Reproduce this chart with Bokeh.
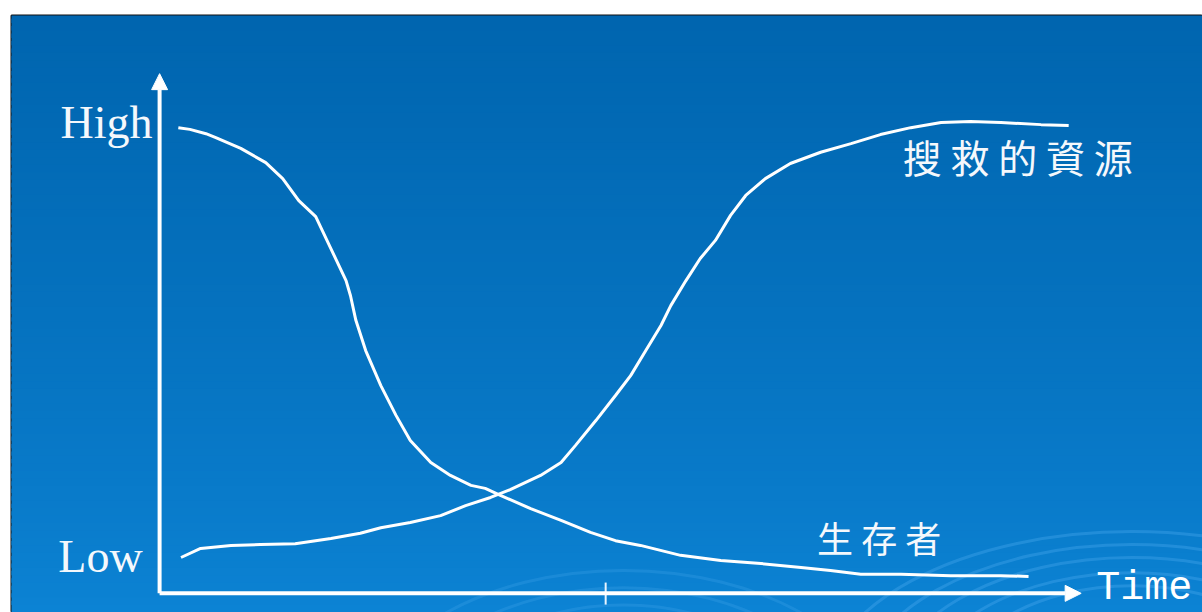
import numpy as np
from bokeh.plotting import figure
from bokeh.models import Range1d, Arrow, NormalHead, Label
from bokeh.embed import file_html
from bokeh.resources import INLINE

# ---- data (time 0..100, level 0=Low .. 100=High) ----
survivors_t = [2.1, 3.4, 5.2, 6.3, 9.1, 11.9, 13.8, 15.6, 17.5, 19.2, 20.9, 21.4, 22.0, 23.1,
               24.8, 26.5, 28.1, 30.4, 32.6, 34.9, 36.5, 38.2, 41.6, 45.0, 48.3, 51.1, 53.9,
               58.4, 62.9, 67.4, 71.9, 75.2, 78.6, 83.1, 88.7, 94.3, 97.4]
survivors_v = [99.5, 99.1, 98.1, 97.2, 94.7, 91.4, 87.7, 82.6, 78.9, 71.5, 64.1, 60.6, 54.9, 47.9,
               39.8, 32.9, 27.1, 22.0, 19.0, 16.7, 16.0, 14.4, 11.3, 8.6, 5.8, 3.9, 2.8,
               0.5, -0.7, -1.4, -2.3, -3.0, -3.9, -3.9, -4.2, -4.2, -4.4]
rescue_t = [2.4, 4.6, 8.0, 11.3, 15.2, 19.2, 22.5, 24.8, 28.1, 31.5, 34.3, 37.1, 39.3, 42.7,
            45.0, 46.6, 48.9, 51.1, 52.8, 54.5, 56.2, 57.3, 59.0, 60.6, 62.3, 64.0, 65.7,
            67.9, 70.7, 74.1, 77.5, 80.8, 84.2, 87.6, 90.9, 94.3, 98.8, 101.9]
rescue_v = [0.0, 2.1, 2.8, 3.0, 3.2, 4.4, 5.6, 6.9, 8.1, 9.7, 12.0, 13.9, 15.7, 19.0,
            22.0, 25.9, 31.7, 37.5, 42.1, 47.9, 53.7, 58.3, 64.1, 69.2, 73.4, 79.2, 83.8,
            87.7, 91.2, 93.8, 95.8, 97.9, 99.5, 100.7, 100.9, 100.7, 100.2, 100.0]
x_tick = [50]
y_labels = ["High", "Low"]
series_labels = ["搜 救 的 資 源", "生 存 者"]
x_label = "Time"

W, H = 1202, 612
x0, x1 = -16.6, 116.9
y0, y1 = -12.73, 125.46

p = figure(width=W, height=H, x_range=Range1d(x0, x1), y_range=Range1d(y0, y1),
           x_axis_type=None, y_axis_type=None, output_backend="svg",
           toolbar_location=None, min_border_left=11, min_border_top=15,
           min_border_right=0, min_border_bottom=0)
p.grid.visible = False
p.border_fill_color = "white"
p.outline_line_color = "#111111"
p.outline_line_width = 2

# gradient background (overlapping strips, drawn bottom to top)
n = 80
edges = np.linspace(y0, y1, n + 1)
fr = np.linspace(0, 1, n)  # 0 bottom, 1 top
top = np.array([0, 101, 175])
bot = np.array([12, 131, 212])
cols = []
for f in fr:
    c = bot + (top - bot) * (f ** 0.8)
    cols.append("#%02x%02x%02x" % tuple(int(round(v)) for v in c))
p.quad(left=x0 - 1, right=x1 + 1, bottom=edges[:-1], top=edges[1:] + 1.0,
       fill_color=cols, line_color=None)

# faint ripple arcs (decoration)
p.ellipse(x=[109] * 5, y=[-33] * 5, width=[70, 62, 55, 48, 41], height=[78, 72, 66, 59, 53],
          fill_color=None, line_color="#5ab4f4", line_alpha=0.3, line_width=3)
p.ellipse(x=[52] * 3, y=[-42] * 3, width=[60, 52, 44], height=[78, 70, 62],
          fill_color=None, line_color="#5ab4f4", line_alpha=0.2, line_width=3)

# axes
ax_y = -8.3
p.add_layout(Arrow(x_start=0, y_start=ax_y, x_end=0, y_end=112.0, line_color="white",
                   line_width=4, end=NormalHead(size=16, fill_color="white", line_color="white")))
p.add_layout(Arrow(x_start=0, y_start=ax_y, x_end=103.3, y_end=ax_y, line_color="white",
                   line_width=4, end=NormalHead(size=16, fill_color="white", line_color="white")))
p.segment(x0=x_tick, y0=[-5.8], x1=x_tick, y1=[-10.9], line_color="#e8f4ff", line_width=2)

# curves
p.line(survivors_t, survivors_v, line_color="white", line_width=3)
p.line(rescue_t, rescue_v, line_color="white", line_width=3)

# labels
p.add_layout(Label(x=-0.8, y=100.7, text=y_labels[0], text_align="right", text_baseline="alphabetic",
                   text_font="Liberation Serif", text_font_size="46px", text_color="#f4f8fc"))
p.add_layout(Label(x=-1.9, y=0.3, text=y_labels[1], text_align="right", text_baseline="alphabetic",
                   text_font="Liberation Serif", text_font_size="46px", text_color="#f4f8fc"))
p.add_layout(Label(x=105.0, y=-7.2, text=x_label, text_align="left", text_baseline="alphabetic",
                   text_font="Liberation Mono", text_font_size="40px", text_color="white"))
p.add_layout(Label(x=83.3, y=93.0, text=series_labels[0], text_align="left", text_baseline="middle",
                   text_font="Noto Sans CJK TC", text_font_size="39px", text_color="#f4f8fc"))
p.add_layout(Label(x=73.7, y=4.8, text=series_labels[1], text_align="left", text_baseline="middle",
                   text_font="Noto Sans CJK TC", text_font_size="36px", text_color="#f4f8fc"))

open("out.html", "w").write(file_html(p, INLINE))
